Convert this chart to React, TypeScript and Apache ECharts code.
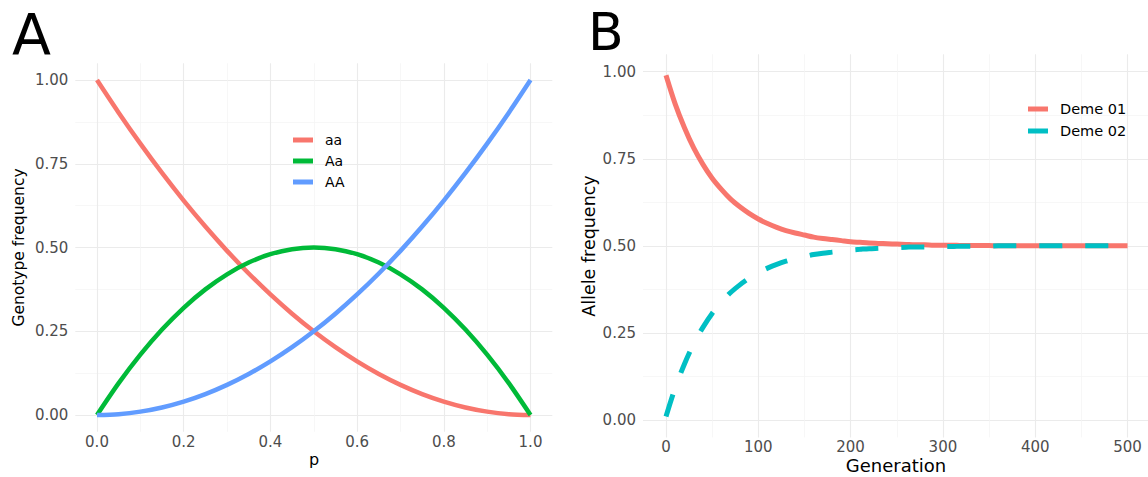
import React, { useEffect, useRef } from "react";
import * as echarts from "echarts";

// Panel A: genotype frequencies against allele frequency p
const pValues = [0, 0.05, 0.1, 0.15, 0.2, 0.25, 0.3, 0.35, 0.4, 0.45, 0.5, 0.55, 0.6, 0.65, 0.7, 0.75, 0.8, 0.85, 0.9, 0.95, 1];
const aaValues = [1, 0.9025, 0.81, 0.7225, 0.64, 0.5625, 0.49, 0.4225, 0.36, 0.3025, 0.25, 0.2025, 0.16, 0.1225, 0.09, 0.0625, 0.04, 0.0225, 0.01, 0.0025, 0];
const AaValues = [0, 0.095, 0.18, 0.255, 0.32, 0.375, 0.42, 0.455, 0.48, 0.495, 0.5, 0.495, 0.48, 0.455, 0.42, 0.375, 0.32, 0.255, 0.18, 0.095, 0];
const AAValues = [0, 0.0025, 0.01, 0.0225, 0.04, 0.0625, 0.09, 0.1225, 0.16, 0.2025, 0.25, 0.3025, 0.36, 0.4225, 0.49, 0.5625, 0.64, 0.7225, 0.81, 0.9025, 1];
const genotypeNames = ["aa", "Aa", "AA"];

// Panel B: allele frequency over generations
const generations = [0, 10, 20, 30, 40, 50, 60, 70, 80, 90, 100, 110, 120, 130, 140, 150, 160, 170, 180, 190, 200, 210, 220, 230, 240, 250, 260, 270, 280, 290, 300, 310, 320, 330, 340, 350, 360, 370, 380, 390, 400, 410, 420, 430, 440, 450, 460, 470, 480, 490, 500];
const deme01 = [0.990, 0.907, 0.839, 0.781, 0.734, 0.694, 0.662, 0.634, 0.612, 0.593, 0.577, 0.564, 0.553, 0.544, 0.537, 0.531, 0.525, 0.521, 0.518, 0.515, 0.512, 0.510, 0.508, 0.507, 0.506, 0.505, 0.504, 0.503, 0.503, 0.502, 0.502, 0.502, 0.501, 0.501, 0.501, 0.501, 0.500, 0.500, 0.500, 0.500, 0.500, 0.500, 0.500, 0.500, 0.500, 0.500, 0.500, 0.500, 0.500, 0.500, 0.500];
const deme02 = [0.010, 0.093, 0.161, 0.219, 0.266, 0.306, 0.338, 0.366, 0.388, 0.407, 0.423, 0.436, 0.447, 0.456, 0.463, 0.469, 0.475, 0.479, 0.482, 0.485, 0.488, 0.490, 0.492, 0.493, 0.494, 0.495, 0.496, 0.497, 0.497, 0.498, 0.498, 0.498, 0.499, 0.499, 0.499, 0.499, 0.500, 0.500, 0.500, 0.500, 0.500, 0.500, 0.500, 0.500, 0.500, 0.500, 0.500, 0.500, 0.500, 0.500, 0.500];
const demeNames = ["Deme 01", "Deme 02"];

// Tick labels
const pTickLabels = ["0.0", "0.2", "0.4", "0.6", "0.8", "1.0"];
const freqTickLabels = ["0.00", "0.25", "0.50", "0.75", "1.00"];
const genTickLabels = ["0", "100", "200", "300", "400", "500"];

const FONT = "DejaVu Sans";
const MAJOR = { color: "#EBEBEB", width: 1.1 };
const MINOR = { color: "#F3F3F3", width: 0.7 };

function zip(xs: number[], ys: number[]) {
  return xs.map((x, i) => [x, ys[i]]);
}

export default function App() {
  const ref = useRef<HTMLDivElement>(null);
  useEffect(() => {
    document.body.style.margin = "0";
    const chart = echarts.init(ref.current!, null, { renderer: "svg" });

    const hiddenX = (gridIndex: number, min: number, max: number) => ({ type: "value", gridIndex, min, max, show: false, splitLine: { show: false } });
    const hiddenY = hiddenX;

    const labelX = (gridIndex: number, max: number, interval: number, labels: string[], margin: number) => ({
      type: "value",
      gridIndex,
      min: 0,
      max,
      interval,
      axisLine: { show: false },
      axisTick: { show: false },
      minorTick: { show: false, splitNumber: 2 },
      minorSplitLine: { show: true, lineStyle: MINOR },
      splitLine: { show: true, lineStyle: MAJOR },
      axisLabel: {
        margin,
        color: "#4D4D4D",
        fontSize: 15,
        fontFamily: FONT,
        formatter: (v: number) => labels[Math.round(v / interval)] ?? "",
      },
    });
    const labelY = (gridIndex: number, labels: string[]) => ({
      type: "value",
      gridIndex,
      min: 0,
      max: 1,
      interval: 0.25,
      axisLine: { show: false },
      axisTick: { show: false },
      minorTick: { show: false, splitNumber: 2 },
      minorSplitLine: { show: true, lineStyle: MINOR },
      splitLine: { show: true, lineStyle: MAJOR },
      axisLabel: {
        margin: 7,
        color: "#4D4D4D",
        fontSize: 15,
        fontFamily: FONT,
        formatter: (v: number) => labels[Math.round(v / 0.25)] ?? "",
      },
    });

    const lineSeries = (name: string, data: number[][], color: string, idx: number, width: number, type: any = "solid") => ({
      name,
      type: "line",
      xAxisIndex: idx,
      yAxisIndex: idx,
      data,
      smooth: 0.3,
      showSymbol: false,
      symbol: "none",
      clip: false,
      color,
      lineStyle: { color, width, type, cap: "butt" },
      emphasis: { disabled: true },
    });

    const option: any = {
      animation: false,
      grid: [
        // Panel A
        { left: 97, top: 63.25, width: 433.5, height: 368.5 },
        { left: 75.3, top: 80, width: 477, height: 335 },
        { left: 97, top: 80, width: 433.5, height: 335 },
        // Panel B
        { left: 666, top: 54.3, width: 461.5, height: 383.1 },
        { left: 643, top: 71.7, width: 507.5, height: 348.3 },
        { left: 666, top: 71.7, width: 461.5, height: 348.3 },
      ],
      xAxis: [
        labelX(0, 1, 0.2, pTickLabels, 3),
        hiddenX(1, 0, 1),
        hiddenX(2, 0, 1),
        labelX(3, 500, 100, genTickLabels, 2),
        hiddenX(4, 0, 1),
        hiddenX(5, 0, 500),
      ],
      yAxis: [
        hiddenY(0, 0, 1),
        labelY(1, freqTickLabels),
        hiddenY(2, 0, 1),
        hiddenY(3, 0, 1),
        labelY(4, freqTickLabels),
        hiddenY(5, 0, 1),
      ],
      legend: [
        {
          data: genotypeNames,
          orient: "vertical",
          left: 288,
          top: 127,
          icon: "rect",
          itemWidth: 20,
          itemHeight: 5,
          itemGap: 5,
          selectedMode: false,
          textStyle: { fontSize: 14, fontFamily: FONT, color: "#000", lineHeight: 16, padding: [0, 0, 0, 7] },
        },
        {
          data: demeNames,
          orient: "vertical",
          left: 1023,
          top: 96,
          icon: "rect",
          itemWidth: 20,
          itemHeight: 5,
          itemGap: 6,
          selectedMode: false,
          textStyle: { fontSize: 14.5, fontFamily: FONT, color: "#000", lineHeight: 16, padding: [0, 0, 0, 7] },
        },
      ],
      series: [
        lineSeries("aa", zip(pValues, aaValues), "#F8766D", 2, 4.5),
        lineSeries("Aa", zip(pValues, AaValues), "#00BA38", 2, 4.5),
        lineSeries("AA", zip(pValues, AAValues), "#619CFF", 2, 4.5),
        lineSeries("Deme 01", zip(generations, deme01), "#F8766D", 5, 5),
        lineSeries("Deme 02", zip(generations, deme02), "#00BFC4", 5, 5, [23, 23]),
      ],
      graphic: [
        { type: "text", x: 12, y: 35, style: { text: "A", fontSize: 57, fontFamily: FONT, fill: "#000", align: "left", verticalAlign: "middle" } },
        { type: "text", x: 588, y: 31.5, style: { text: "B", fontSize: 52, fontFamily: FONT, fill: "#000", align: "left", verticalAlign: "middle" } },
        { type: "text", x: 314, y: 459, style: { text: "p", fontSize: 16, fontFamily: FONT, fill: "#000", align: "center", verticalAlign: "middle" } },
        { type: "text", x: 19, y: 247.5, rotation: Math.PI / 2, style: { text: "Genotype frequency", fontSize: 15.5, fontFamily: FONT, fill: "#000", align: "center", verticalAlign: "middle" } },
        { type: "text", x: 896, y: 465, style: { text: "Generation", fontSize: 18, fontFamily: FONT, fill: "#000", align: "center", verticalAlign: "middle" } },
        { type: "text", x: 589, y: 246, rotation: Math.PI / 2, style: { text: "Allele frequency", fontSize: 17.5, fontFamily: FONT, fill: "#000", align: "center", verticalAlign: "middle" } },
      ],
    };
    chart.setOption(option);
    return () => chart.dispose();
  }, []);
  return <div ref={ref} style={{ position: "absolute", left: 0, top: 0, width: 1148, height: 477 }} />;
}
